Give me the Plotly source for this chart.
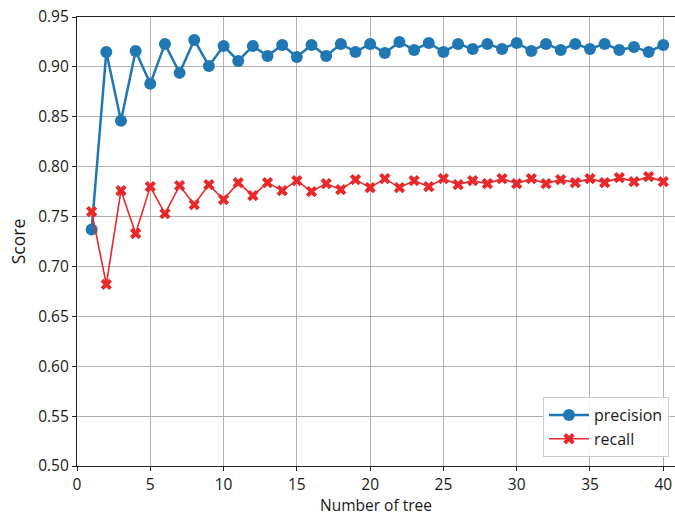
import plotly.graph_objects as go

n_trees = list(range(1, 41))
precision = [0.737, 0.915, 0.846, 0.916, 0.883, 0.923, 0.894, 0.927, 0.901, 0.921,
             0.906, 0.921, 0.911, 0.922, 0.910, 0.922, 0.911, 0.923, 0.915, 0.923,
             0.914, 0.925, 0.917, 0.924, 0.915, 0.923, 0.918, 0.923, 0.918, 0.924,
             0.916, 0.923, 0.917, 0.923, 0.918, 0.923, 0.917, 0.920, 0.915, 0.922]
recall = [0.755, 0.682, 0.776, 0.733, 0.780, 0.753, 0.781, 0.762, 0.782, 0.767,
          0.784, 0.771, 0.784, 0.776, 0.786, 0.775, 0.783, 0.777, 0.787, 0.779,
          0.788, 0.779, 0.786, 0.780, 0.788, 0.782, 0.786, 0.783, 0.788, 0.783,
          0.788, 0.783, 0.787, 0.784, 0.788, 0.784, 0.789, 0.785, 0.790, 0.785]
x_ticks = [0, 5, 10, 15, 20, 25, 30, 35, 40]
y_ticks = [0.50, 0.55, 0.60, 0.65, 0.70, 0.75, 0.80, 0.85, 0.90, 0.95]

FONT = "Open Sans"
TXT = "#1a1a1a"

fig = go.Figure()
fig.add_trace(go.Scatter(
    x=n_trees, y=precision, name="precision", mode="lines+markers",
    line=dict(color="#1f77b4", width=2.5),
    marker=dict(symbol="circle", size=12, color="#1f77b4"),
))
fig.add_trace(go.Scatter(
    x=n_trees, y=recall, name="recall", mode="lines+markers",
    line=dict(color="#e8282a", width=1.6),
    marker=dict(symbol="x", size=10, color="#e8282a", line=dict(width=0)),
))

fig.update_layout(
    width=675, height=516,
    margin=dict(l=77, r=0, t=17, b=50),
    paper_bgcolor="white", plot_bgcolor="white",
    font=dict(family=FONT, size=15, color=TXT),
    showlegend=True,
    legend=dict(
        x=0.99, y=0.02, xanchor="right", yanchor="bottom",
        bgcolor="rgba(255,255,255,0.9)", bordercolor="#cccccc", borderwidth=1,
        font=dict(family=FONT, size=16, color=TXT),
        itemwidth=40, tracegroupgap=2,
    ),
    xaxis=dict(
        range=[0, 40.8], tickmode="array", tickvals=x_ticks,
        showgrid=True, gridcolor="#b0b0b0", gridwidth=1,
        showline=True, linecolor="#222222", linewidth=1.2, mirror=True,
        ticks="outside", ticklen=4, tickcolor="#222222",
        tickfont=dict(size=15.5),
        zeroline=False,
        title=dict(text="Number of tree", font=dict(family=FONT, size=15.5), standoff=6),
    ),
    yaxis=dict(
        range=[0.50, 0.95], tickmode="array", tickvals=y_ticks, tickformat=".2f",
        showgrid=True, gridcolor="#b0b0b0", gridwidth=1,
        showline=True, linecolor="#222222", linewidth=1.2,
        ticks="outside", ticklen=4, tickcolor="#222222",
        tickfont=dict(size=15.5),
        zeroline=False,
        title=dict(text="Score", font=dict(family=FONT, size=17.5), standoff=8),
    ),
)

fig.write_html("out.html")
